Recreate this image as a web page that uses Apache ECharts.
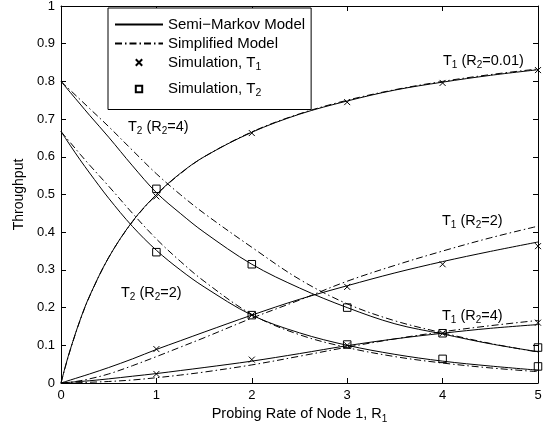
<!DOCTYPE html>
<html><head><meta charset="utf-8">
<script src="https://cdn.jsdelivr.net/npm/echarts@6/dist/echarts.min.js"></script>
<style>html,body{margin:0;padding:0;background:#fff}#c{width:545px;height:430px}</style>
</head><body><div id="c"></div>
<script>
// ---- data ----
const xGrid = [0, 0.05, 0.1, 0.2, 0.3, 0.5, 0.75, 1, 1.25, 1.5, 2, 2.5, 3, 3.5, 4, 4.5, 5];
// Semi-Markov model curves
const t1R001Model = [0, 0.048, 0.091, 0.167, 0.231, 0.333, 0.429, 0.5, 0.556, 0.6, 0.665, 0.713, 0.748, 0.777, 0.798, 0.816, 0.831];
const t1R2Model   = [0, 0.004, 0.008, 0.016, 0.024, 0.041, 0.064, 0.089, 0.112, 0.135, 0.18, 0.222, 0.258, 0.292, 0.322, 0.349, 0.374];
const t1R4Model   = [0, 0.001, 0.002, 0.004, 0.006, 0.011, 0.018, 0.025, 0.033, 0.041, 0.058, 0.078, 0.099, 0.117, 0.132, 0.145, 0.155];
const t2R4Model   = [0.8, 0.785, 0.77, 0.74, 0.71, 0.652, 0.576, 0.505, 0.45, 0.4, 0.315, 0.252, 0.2, 0.157, 0.13, 0.104, 0.083];
const t2R2Model   = [0.667, 0.648, 0.629, 0.592, 0.557, 0.49, 0.415, 0.352, 0.3, 0.255, 0.18, 0.133, 0.1, 0.076, 0.058, 0.045, 0.034];
// Simplified model curves
const t1R001Simp = [0, 0.047, 0.09, 0.166, 0.23, 0.333, 0.428, 0.499, 0.555, 0.6, 0.666, 0.714, 0.75, 0.778, 0.8, 0.818, 0.833];
const t1R2Simp   = [0, 0.001, 0.002, 0.006, 0.011, 0.024, 0.046, 0.07, 0.095, 0.12, 0.172, 0.22, 0.27, 0.312, 0.35, 0.385, 0.416];
const t1R4Simp   = [0, 0, 0, 0.001, 0.002, 0.004, 0.008, 0.014, 0.021, 0.029, 0.048, 0.071, 0.095, 0.117, 0.136, 0.152, 0.166];
const t2R4Simp   = [0.8, 0.788, 0.776, 0.752, 0.728, 0.68, 0.617, 0.555, 0.5, 0.45, 0.36, 0.275, 0.21, 0.165, 0.133, 0.105, 0.082];
const t2R2Simp   = [0.667, 0.652, 0.637, 0.607, 0.578, 0.522, 0.45, 0.382, 0.323, 0.27, 0.182, 0.128, 0.094, 0.07, 0.053, 0.04, 0.03];
// Simulation points
const simX = [1, 2, 3, 4, 5];
const simT1R001 = [0.495, 0.663, 0.745, 0.796, 0.83];
const simT1R2   = [0.09, 0.18, 0.255, 0.315, 0.363];
const simT1R4   = [0.024, 0.062, 0.1, 0.132, 0.16];
const simT2R4   = [0.515, 0.315, 0.2, 0.132, 0.094];
const simT2R2   = [0.347, 0.18, 0.102, 0.064, 0.044];
// axes
const xTicks = [0, 1, 2, 3, 4, 5];
const yTicks = [0, 0.1, 0.2, 0.3, 0.4, 0.5, 0.6, 0.7, 0.8, 0.9, 1];

const NAME_MODEL = 'Semi\u2212Markov Model';
const NAME_SIMP = 'Simplified Model';
const NAME_S1 = 'Simulation, T1';
const NAME_S2 = 'Simulation, T2';
const FF = 'Liberation Sans, Arial, Helvetica, sans-serif';

function pairs(xs, ys) { return xs.map((x, i) => [x, ys[i]]); }

const chart = echarts.init(document.getElementById('c'), null, {renderer: 'canvas'});

const modelSets = [t1R001Model, t1R2Model, t1R4Model, t2R4Model, t2R2Model];
const simpSets = [t1R001Simp, t1R2Simp, t1R4Simp, t2R4Simp, t2R2Simp];

const series = [];
modelSets.forEach(ys => series.push({
  name: NAME_MODEL, type: 'line', data: pairs(xGrid, ys), symbol: 'none',
  smooth: 0.35, color: '#000',
  lineStyle: {color: '#000', width: 1, type: 'solid'}, z: 3
}));
simpSets.forEach(ys => series.push({
  name: NAME_SIMP, type: 'line', data: pairs(xGrid, ys), symbol: 'none',
  smooth: 0.35, color: '#000',
  lineStyle: {color: '#000', width: 1, type: [7, 3, 1.5, 3]}, z: 3
}));
const simT1 = [].concat(pairs(simX, simT1R001), pairs(simX, simT1R2), pairs(simX, simT1R4));
const simT2 = [].concat(pairs(simX, simT2R4), pairs(simX, simT2R2));
series.push({
  name: NAME_S1, type: 'line', data: simT1, showSymbol: true, showAllSymbol: true,
  symbol: 'path://M0,0L10,10M10,0L0,10', symbolSize: 6, color: '#000',
  itemStyle: {color: 'transparent', borderColor: '#000', borderWidth: 1},
  lineStyle: {opacity: 0, width: 0}, z: 4
});
series.push({
  name: NAME_S2, type: 'line', data: simT2, showSymbol: true, showAllSymbol: true,
  symbol: 'path://M0,0L10,0L10,10L0,10Z', symbolSize: 7.5, color: '#000',
  itemStyle: {color: 'transparent', borderColor: '#000', borderWidth: 1},
  lineStyle: {opacity: 0, width: 0}, z: 4
});

const subRich = {
  s: {fontFamily: FF, fontSize: 10, color: '#000', padding: [9, 0, 0, 0]}
};
const legendRich = {
  s: {fontFamily: FF, fontSize: 10.5, color: '#000', padding: [9, 0, 0, 0]},
  b: {fontFamily: FF, fontSize: 15, color: '#000', lineHeight: 25}
};
const legendLabels = {};
legendLabels[NAME_S1] = 'Simulation, T{s|1}';
legendLabels[NAME_S2] = '{b|Simulation, T}{s|2}';

function note(x, y, txt) {
  return {type: 'text', x: x, y: y, z: 10,
    style: {text: txt, fontFamily: FF, fontSize: 14.5, fill: '#000', verticalAlign: 'top', rich: subRich}};
}

const axisCommon = {
  axisLine: {show: true, onZero: false, lineStyle: {color: '#000', width: 1}},
  axisTick: {show: true, inside: true, length: 5, lineStyle: {color: '#000'}},
  splitLine: {show: false}
};

const hiddenSymbol = {color: 'transparent', borderColor: 'transparent', opacity: 0};

chart.setOption({
  animation: false,
  backgroundColor: '#fff',
  grid: {left: 61, right: 7, top: 6, bottom: 47, containLabel: false, outerBoundsMode: 'none'},
  xAxis: [
    Object.assign({type: 'value', position: 'bottom', min: xTicks[0], max: xTicks[xTicks.length - 1], interval: 1,
      name: 'Probing Rate of Node 1, R{s|1}', nameLocation: 'middle', nameGap: 19,
      nameTextStyle: {fontFamily: FF, fontSize: 14.5, color: '#000', rich: subRich},
      axisLabel: {fontFamily: FF, fontSize: 13, color: '#000', margin: 6}}, axisCommon),
    Object.assign({type: 'value', position: 'top', min: xTicks[0], max: xTicks[xTicks.length - 1], interval: 1,
      axisLabel: {show: false}}, axisCommon)
  ],
  yAxis: [
    Object.assign({type: 'value', position: 'left', min: yTicks[0], max: yTicks[yTicks.length - 1], interval: 0.1,
      name: 'Throughput', nameLocation: 'middle', nameGap: 34,
      nameTextStyle: {fontFamily: FF, fontSize: 14, color: '#000'},
      axisLabel: {fontFamily: FF, fontSize: 13, color: '#000', margin: 6}}, axisCommon),
    Object.assign({type: 'value', position: 'right', min: yTicks[0], max: yTicks[yTicks.length - 1], interval: 0.1,
      axisLabel: {show: false}}, axisCommon)
  ],
  legend: {
    data: [
      {name: NAME_MODEL, itemStyle: hiddenSymbol},
      {name: NAME_SIMP, itemStyle: hiddenSymbol},
      {name: NAME_S1},
      {name: NAME_S2}
    ],
    orient: 'vertical', left: 108, top: 8,
    padding: [9, 6, 8, 6], itemGap: 4, itemWidth: 48, itemHeight: 8,
    borderColor: '#000', borderWidth: 1, backgroundColor: '#fff', borderRadius: 0,
    selectedMode: false,
    formatter: n => legendLabels[n] || n,
    textStyle: {fontFamily: FF, fontSize: 15, lineHeight: 15, color: '#000', rich: legendRich}
  },
  graphic: [
    note(443, 51, 'T{s|1} (R{s|2}=0.01)'),
    note(128, 117, 'T{s|2} (R{s|2}=4)'),
    note(121, 283, 'T{s|2} (R{s|2}=2)'),
    note(442, 211, 'T{s|1} (R{s|2}=2)'),
    note(442, 306, 'T{s|1} (R{s|2}=4)')
  ],
  series: series
});
</script>
</body></html>
